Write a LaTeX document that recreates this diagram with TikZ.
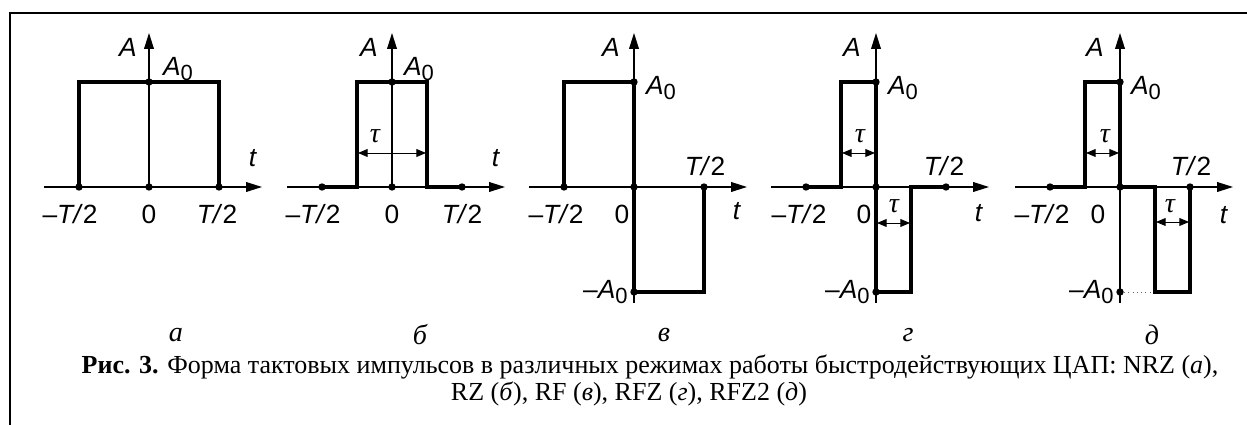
\documentclass[tikz,border=0pt]{standalone}
\usepackage{fontspec}
\setmainfont{Liberation Serif}
\newfontfamily\axisfont{Liberation Sans}
\usetikzlibrary{arrows.meta}

\newcommand{\Azero}{\textit{A}\raisebox{-0.35ex}{\fontsize{12.5}{12.5}\selectfont 0}}
\newcommand{\mAzero}{\textendash\Azero}
\newcommand{\halfT}{\textit{T/}2}
\newcommand{\mhalfT}{\textendash\textit{T/}2}

\begin{document}
\begin{tikzpicture}[
  x=0.02cm, y=0.02cm,
  frame/.style={line width=1.1pt},
  axis/.style={line width=0.75pt, -{Triangle[length=9pt,width=5.5pt]}},
  pulse/.style={line width=1.9pt, line join=miter},
  span/.style={line width=0.5pt, {Triangle[length=5.5pt,width=4.5pt]}-{Triangle[length=5.5pt,width=4.5pt]}},
  lbl/.style={font=\axisfont\fontsize{15}{15}\selectfont, inner sep=0pt},
  taulbl/.style={font=\fontsize{16}{16}\selectfont\itshape, inner sep=0pt},
  letter/.style={font=\fontsize{16}{16}\selectfont\itshape, inner sep=0pt},
  caption/.style={font=\fontsize{14.8}{14.8}\selectfont, inner sep=0pt}]

  \useasboundingbox (0,0) rectangle (1247,425);
  \draw[frame] (10,0) -- (10,412) -- (1247,412);

  % a) NRZ
  \begin{scope}[shift={(149,238)}]
    \draw[axis] (-105,0) -- (113,0);
    \draw[axis] (0,0) -- (0,154);
    \draw[pulse] (-70,0) -- (-70,105) -- (70,105) -- (70,0);
    \foreach \p in {(-70,0),(0,0),(70,0),(0,105)} \fill \p circle (2.1pt);
    \node[lbl] (nrzA)  at (-21,140) {\textit{A}};
    \node[lbl] (nrzA0) at (29,118) {\Azero};
    \node[lbl] (nrzt)  at (104,29) {\textit{t}};
    \node[lbl] (nrzmT) at (-79,-27) {\mhalfT};
    \node[lbl] (nrz0)  at (0,-27) {0};
    \node[lbl] (nrzT)  at (68,-27) {\halfT};
  \end{scope}

  % b) RZ
  \begin{scope}[shift={(392,238)}]
    \draw[axis] (-105,0) -- (113,0);
    \draw[axis] (0,0) -- (0,154);
    \draw[pulse] (-70,0) -- (-35,0) -- (-35,105) -- (35,105) -- (35,0) -- (70,0);
    \draw[span] (-34,34) -- (34,34);
    \foreach \p in {(-70,0),(0,0),(70,0),(0,105)} \fill \p circle (2.1pt);
    \node[taulbl] (rztau) at (-17,51) {τ};
    \node[lbl] (rzA)  at (-23,140) {\textit{A}};
    \node[lbl] (rzA0) at (27,118) {\Azero};
    \node[lbl] (rzt)  at (104,29) {\textit{t}};
    \node[lbl] (rzmT) at (-79,-27) {\mhalfT};
    \node[lbl] (rz0)  at (0,-27) {0};
    \node[lbl] (rzT)  at (70,-27) {\halfT};
  \end{scope}

  % c) RF
  \begin{scope}[shift={(634,238)}]
    \draw[axis] (-105,0) -- (113,0);
    \draw[axis] (0,-116) -- (0,154);
    \draw[pulse] (-70,0) -- (-70,105) -- (0,105) -- (0,-105) -- (70,-105) -- (70,0);
    \foreach \p in {(-70,0),(0,0),(70,0),(0,105),(0,-105)} \fill \p circle (2.1pt);
    \node[lbl] (rfA)   at (-23,140) {\textit{A}};
    \node[lbl] (rfA0)  at (27,99) {\Azero};
    \node[lbl, anchor=east] (rfmA0) at (-6,-105) {\mAzero};
    \node[lbl] (rft)   at (103,-24) {\textit{t}};
    \node[lbl] (rfmT)  at (-78,-27) {\mhalfT};
    \node[lbl] (rf0)   at (-12,-27) {0};
    \node[lbl] (rfT)   at (71,21) {\halfT};
  \end{scope}

  % d) RFZ
  \begin{scope}[shift={(876,238)}]
    \draw[axis] (-105,0) -- (113,0);
    \draw[axis] (0,-116) -- (0,154);
    \draw[pulse] (-70,0) -- (-35,0) -- (-35,105) -- (0,105) -- (0,-105) -- (35,-105) -- (35,0) -- (70,0);
    \draw[span] (-34,34) -- (-1,34);
    \draw[span] (1,-36) -- (34,-36);
    \foreach \p in {(-70,0),(0,0),(70,0),(0,105),(0,-105)} \fill \p circle (2.1pt);
    \node[taulbl] (rfztauA) at (-16,51) {τ};
    \node[taulbl] (rfztauB) at (18,-19) {τ};
    \node[lbl] (rfzA)   at (-24,140) {\textit{A}};
    \node[lbl] (rfzA0)  at (27,99) {\Azero};
    \node[lbl, anchor=east] (rfzmA0) at (-6,-105) {\mAzero};
    \node[lbl] (rfzt)   at (103,-26) {\textit{t}};
    \node[lbl] (rfzmT)  at (-77,-27) {\mhalfT};
    \node[lbl] (rfz0)   at (-12,-27) {0};
    \node[lbl] (rfzT)   at (68,21) {\halfT};
  \end{scope}

  % e) RFZ2
  \begin{scope}[shift={(1120,238)}]
    \draw[axis] (-105,0) -- (113,0);
    \draw[axis] (0,-116) -- (0,154);
    \draw[line width=0.4pt, dotted, black!60] (0,-105) -- (35,-105);
    \draw[pulse] (-70,0) -- (-35,0) -- (-35,105) -- (0,105) -- (0,0) -- (35,0) -- (35,-105) -- (70,-105) -- (70,0);
    \draw[span] (-34,34) -- (-1,34);
    \draw[span] (36,-35) -- (69,-35);
    \foreach \p in {(-70,0),(0,0),(70,0),(0,105),(0,-105)} \fill \p circle (2.1pt);
    \node[taulbl] (rfztwotauA) at (-15,51) {τ};
    \node[taulbl] (rfztwotauB) at (50,-19) {τ};
    \node[lbl] (rfztwoA)   at (-25,140) {\textit{A}};
    \node[lbl] (rfztwoA0)  at (26,99) {\Azero};
    \node[lbl, anchor=east] (rfztwomA0) at (-6,-105) {\mAzero};
    \node[lbl] (rfztwot)   at (104,-28) {\textit{t}};
    \node[lbl] (rfztwomT)  at (-78,-27) {\mhalfT};
    \node[lbl] (rfztwo0)   at (-22,-27) {0};
    \node[lbl] (rfztwoT)   at (71,21) {\halfT};
  \end{scope}

  % panel letters and caption
  \node[letter] (capa) at (176,90) {а};
  \node[letter] (capb) at (420,90) {б};
  \node[letter] (capc) at (664,90) {в};
  \node[letter] (capd) at (908,90) {г};
  \node[letter] (cape) at (1152,90) {д};
  \node[caption] (capA) at (650,58)
    {{\bfseries Рис. 3.} Форма тактовых импульсов в различных режимах работы быстродействующих ЦАП: NRZ (\textit{а}),};
  \node[caption] (capB) at (629,31)
    {RZ (\textit{б}), RF (\textit{в}), RFZ (\textit{г}), RFZ2 (\textit{д})};
\end{tikzpicture}
\end{document}
